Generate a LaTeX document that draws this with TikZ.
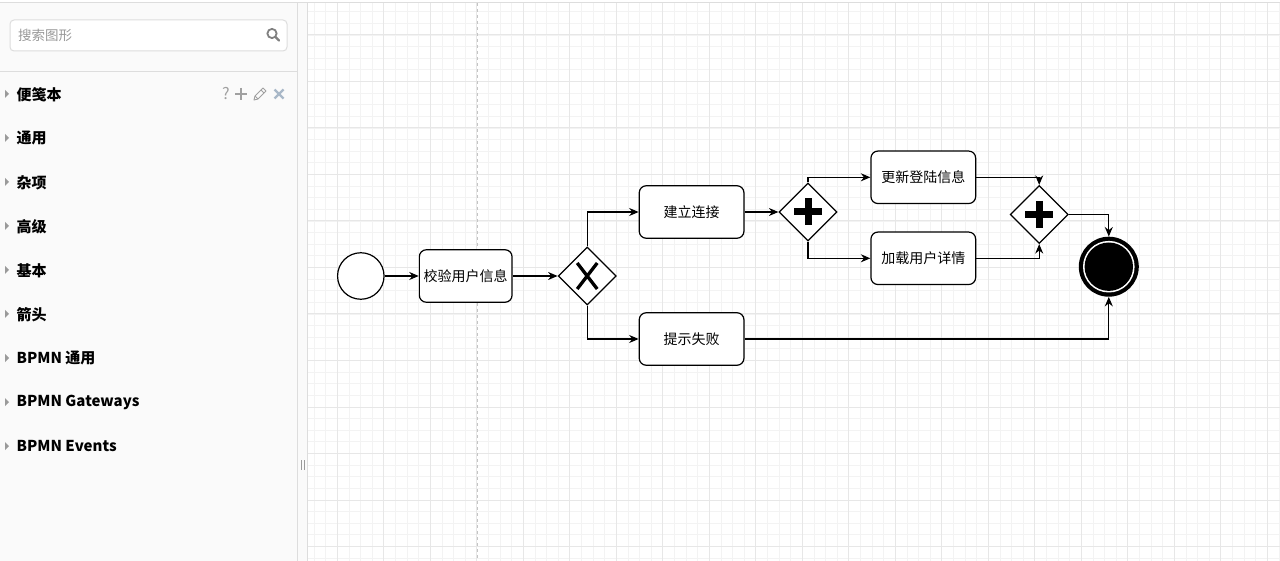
\documentclass[tikz,border=0pt]{standalone}
\usepackage{fontspec}
\setmainfont{Noto Sans CJK SC}
\usetikzlibrary{shapes.geometric,arrows.meta}
\definecolor{sidebg}{HTML}{FAFAFA}
\definecolor{sideline}{HTML}{DDDDDD}
\definecolor{gridminor}{HTML}{F3F3F3}
\definecolor{gridmajor}{HTML}{E7E7E7}
\definecolor{pagebreak}{HTML}{C4C4C4}
\definecolor{placeholder}{HTML}{999999}
\definecolor{tri}{HTML}{9A9A9A}
\definecolor{iconcol}{HTML}{A0A0A0}
\definecolor{closecol}{HTML}{A9B8C8}
\begin{document}
\begin{tikzpicture}[x=1pt,y=-1pt,
  task/.style={draw, line width=1.2pt, rounded corners=7pt, fill=white,
    minimum width=104.7pt, minimum height=52.5pt, inner sep=0pt,
    font=\fontsize{14}{16}\selectfont},
  gw/.style={diamond, draw, line width=1.2pt, fill=white,
    minimum width=58pt, minimum height=58pt, inner sep=0pt},
  flow/.style={draw, line width=1.2pt, -{Stealth[length=9.5pt,width=8pt]}},
  minorline/.style={draw=gridminor, line width=0.8pt},
  majorline/.style={draw=gridmajor, line width=1pt},
  catlabel/.style={anchor=west, inner sep=0pt, font=\fontsize{15}{18}\selectfont\bfseries}
]
\useasboundingbox (0,0) rectangle (1280,561);
\fill[white] (0,0) rectangle (1280,561);

% ---------- canvas grid ----------
\foreach \k in {0,...,83}
  \draw[minorline] ({314.05+11.625*\k},3) -- ({314.05+11.625*\k},561);
\foreach \k in {0,...,47}
  \draw[minorline] (308,{11.75+11.625*\k}) -- (1280,{11.75+11.625*\k});
\foreach \k in {0,...,20}
  \draw[majorline] ({337.3+46.5*\k},3) -- ({337.3+46.5*\k},561);
\foreach \k in {0,...,11}
  \draw[majorline] (308,{35+46.5*\k}) -- (1280,{35+46.5*\k});
\draw[pagebreak, line width=1pt, dash pattern=on 3pt off 3pt] (477.3,3) -- (477.3,561);

% ---------- sidebar ----------
\fill[sidebg] (0,3) rectangle (297,561);
\fill[sidebg] (297,3) rectangle (307.5,561);
\draw[sideline, line width=0.8pt] (297,3) -- (297,561);
\draw[sideline, line width=0.8pt] (307.5,3) -- (307.5,561);
\draw[sideline, line width=1pt] (0,3) -- (1280,3);
\draw[draw=tri, line width=0.9pt] (301.8,460) -- (301.8,470);
\draw[draw=tri, line width=0.9pt] (304,460) -- (304,470);

% search box
\draw[draw=sideline, fill=white, line width=1pt, rounded corners=4pt] (10,20) rectangle (287,51);
\node[anchor=west, inner sep=0pt, text=placeholder, font=\fontsize{13.5}{16}\selectfont] (search) at (18,35.5) {搜索图形};
\draw[draw=gray, line width=1.8pt] (272,33.5) circle[radius=4.6pt];
\draw[draw=gray, line width=2.2pt, line cap=round] (275.5,37) -- (279,40.5);
\draw[sideline, line width=1pt] (0,71.5) -- (297,71.5);

% categories
\foreach \t [count=\i] in {便笺本,通用,杂项,高级,基本,箭头,BPMN 通用,BPMN Gateways,BPMN Events}{
  \fill[tri] (5,{50+44*\i-4}) -- (9,{50+44*\i}) -- (5,{50+44*\i+4}) -- cycle;
  \node[catlabel] (cat\i) at (16.5,{50.5+44*\i}) {\t};
}
% scratchpad icons
\node[text=iconcol, inner sep=0pt, font=\fontsize{16}{18}\selectfont] (qmark) at (226,93.5) {?};
\draw[draw=iconcol, line width=1.8pt] (235,94) -- (247,94);
\draw[draw=iconcol, line width=1.8pt] (241,88) -- (241,100);
\draw[draw=iconcol, line width=0.9pt, line join=round] (254,100) -- (255,96) -- (263,88) -- (266,91) -- (258,99) -- cycle;
\draw[draw=iconcol, line width=0.9pt] (255,96) -- (258,99);
\draw[draw=iconcol, line width=0.9pt] (261,90) -- (264,93);
\draw[draw=closecol, line width=2.2pt] (274.5,89.5) -- (283.5,98.5);
\draw[draw=closecol, line width=2.2pt] (283.5,89.5) -- (274.5,98.5);

% ---------- diagram ----------
\node[circle, draw, line width=1.2pt, fill=white, minimum size=46.5pt, inner sep=0pt] (start) at (360.8,276) {};
\node[task, minimum width=92.7pt] (t1) at (465.7,276) {校验用户信息};
\node[gw] (g1) at (587.2,276) {};
\node[task] (t2) at (691.6,212) {建立连接};
\node[task] (t3) at (691.6,339) {提示失败};
\node[gw] (p1) at (808,212) {};
\node[task] (t4) at (923.3,177.3) {更新登陆信息};
\node[task] (t5) at (923.3,258.3) {加载用户详情};
\node[gw] (p2) at (1039.2,214.5) {};
\node[circle, fill=black, minimum size=60pt, inner sep=0pt] (end) at (1108.8,266.7) {};
\fill[white] (end.center) circle[radius=25.8pt];
\fill[black] (end.center) circle[radius=24.2pt];

% gateway markers
\draw[line width=3.3pt] ([shift={(-10,-13)}]g1.center) -- ([shift={(10,13)}]g1.center);
\draw[line width=3.3pt] ([shift={(10,-13)}]g1.center) -- ([shift={(-10,13)}]g1.center);
\foreach \g in {p1,p2}{
  \draw[line width=7pt] ([shift={(-14,0)}]\g.center) -- ([shift={(14,0)}]\g.center);
  \draw[line width=7pt] ([shift={(0,-13.5)}]\g.center) -- ([shift={(0,13.5)}]\g.center);
}

% connectors
\draw[flow] (start) -- (t1);
\draw[flow] (t1) -- (g1);
\draw[flow] (g1.north) |- (t2.west);
\draw[flow] (g1.south) |- (t3.west);
\draw[flow] (t2) -- (p1);
\draw[flow] (p1.north) |- (t4.west);
\draw[flow] (p1.south) |- (t5.west);
\draw[flow] (t4.east) -| (p2.north);
\draw[flow] (t5.east) -| (p2.south);
\draw[flow] (p2.east) -| (end.north);
\draw[flow] (t3.east) -| (end.south);
\end{tikzpicture}
\end{document}
